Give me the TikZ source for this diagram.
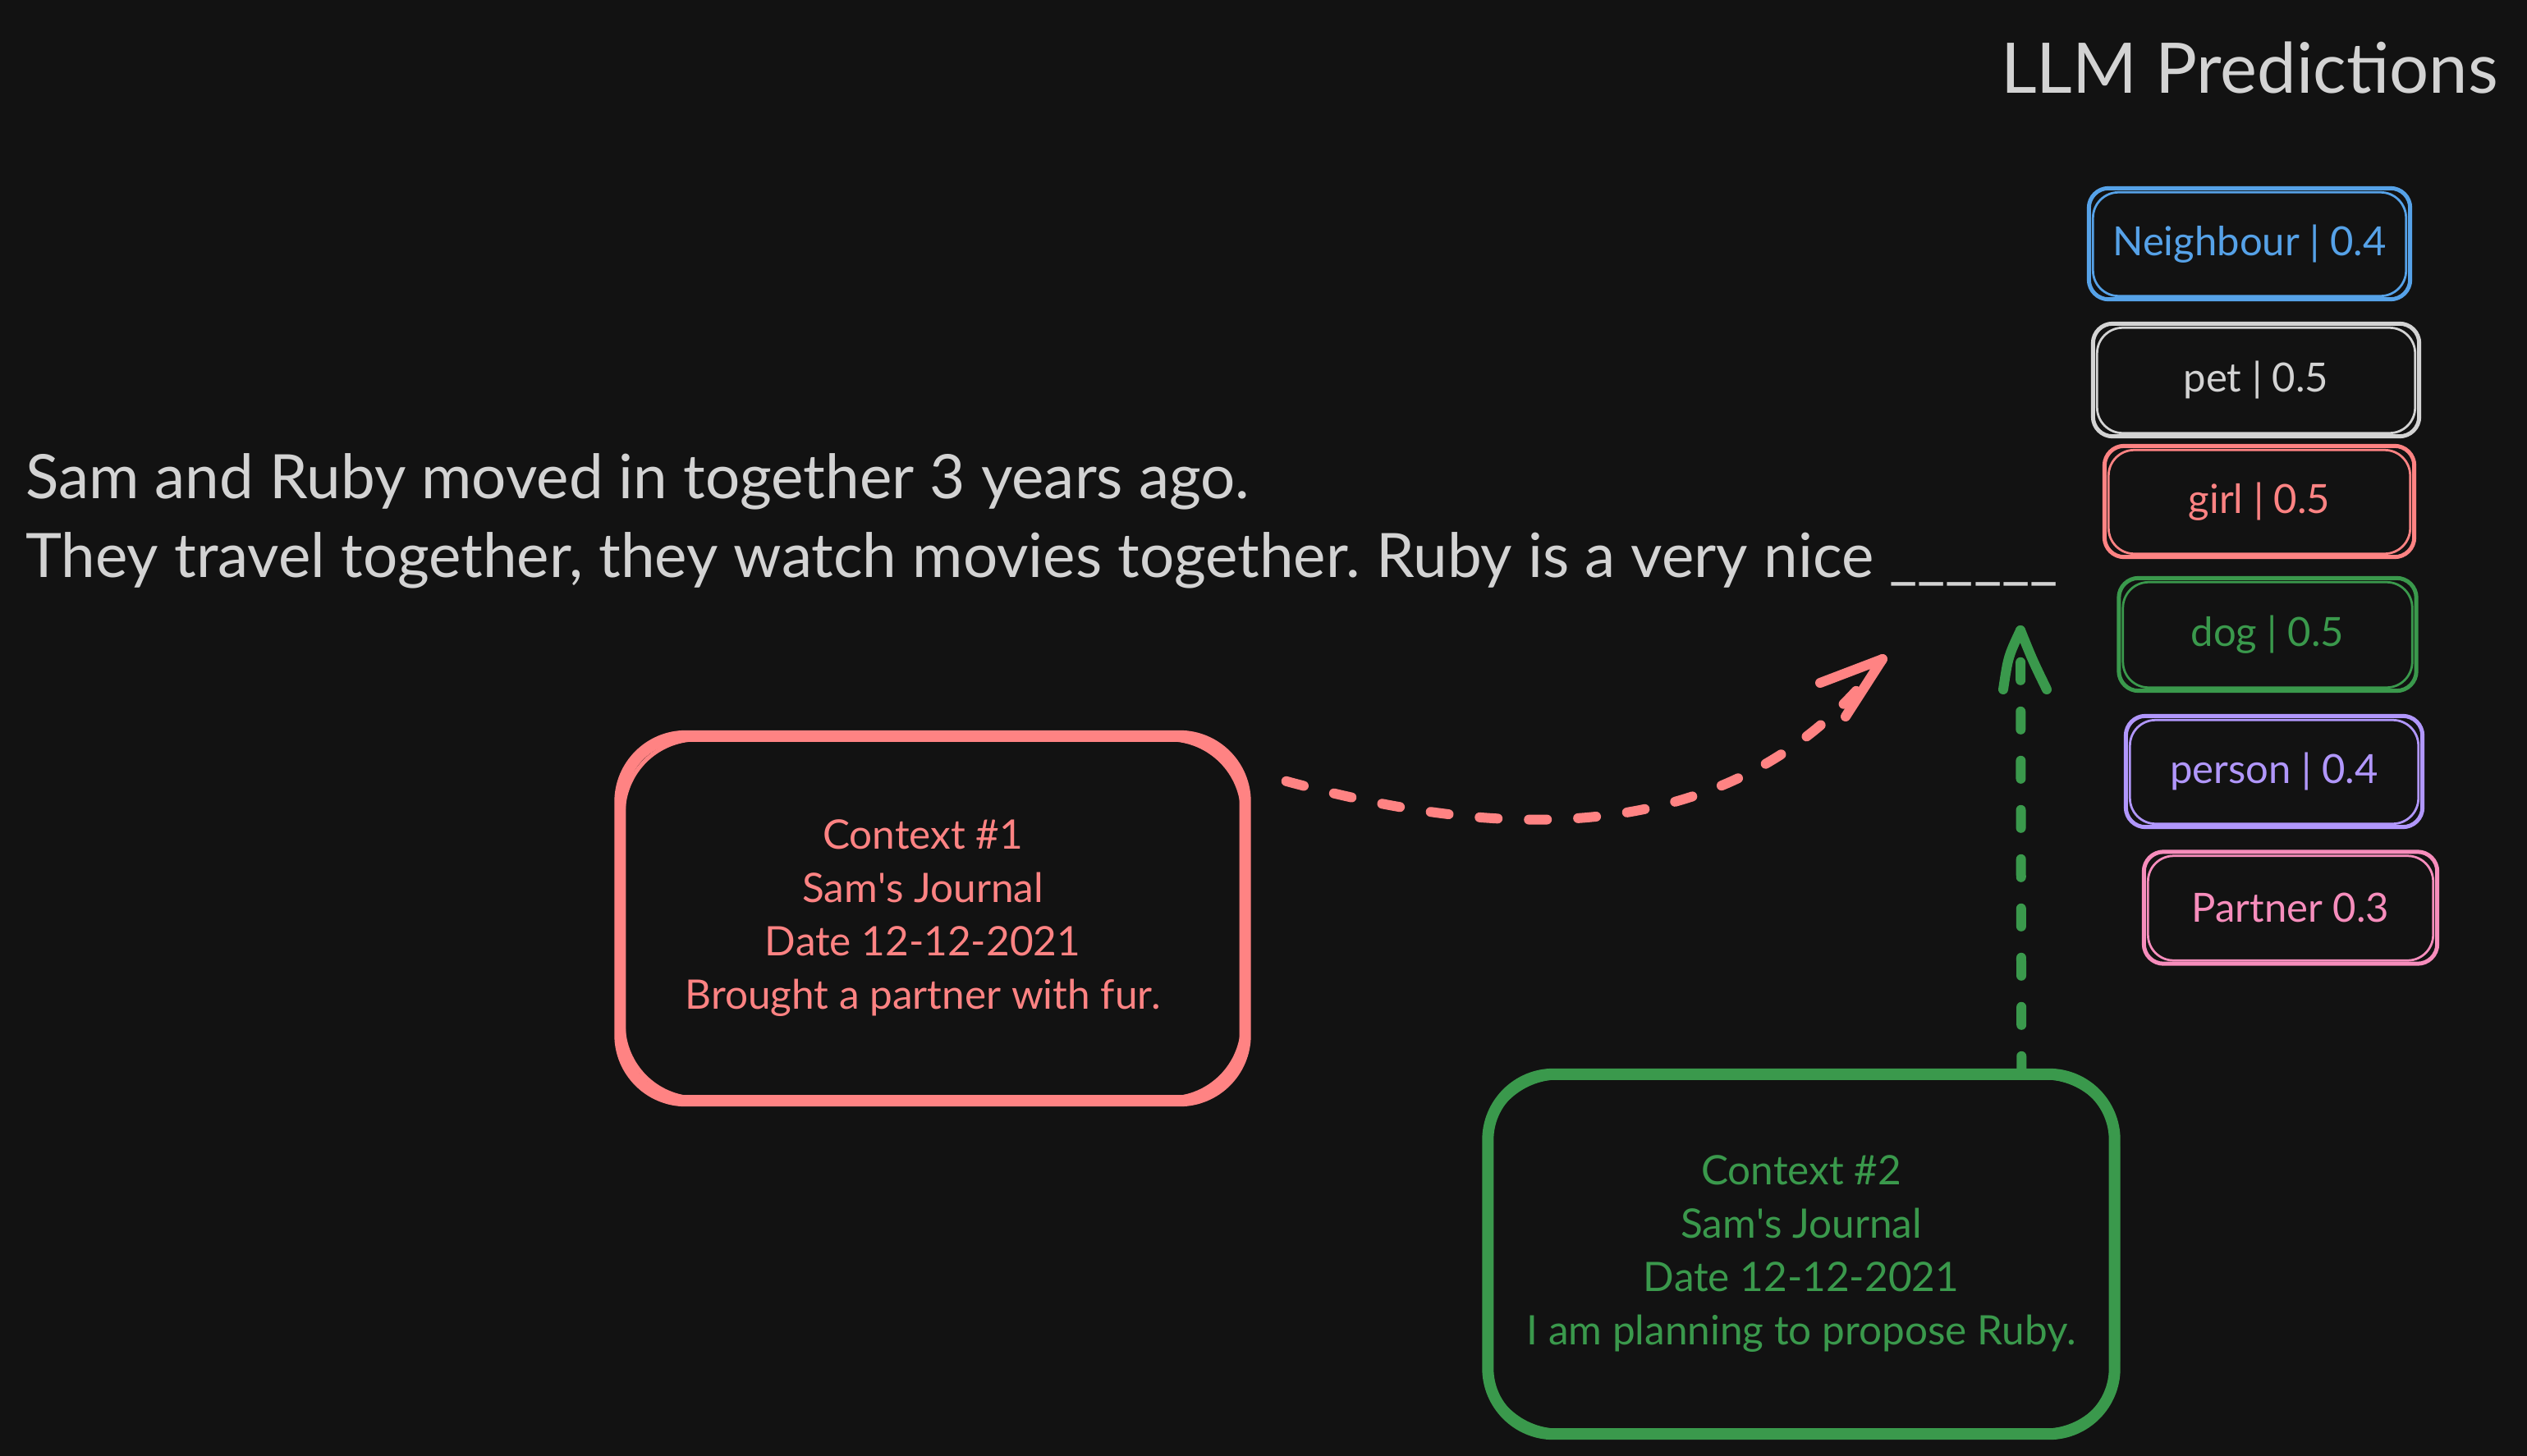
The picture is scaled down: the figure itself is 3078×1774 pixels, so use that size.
\documentclass[tikz,border=0pt]{standalone}
\usepackage{fontspec}
\setmainfont{Lato}
\usetikzlibrary{calc}
\frenchspacing
\definecolor{bg}{HTML}{121212}
\definecolor{fg}{HTML}{D3D3D3}
\definecolor{cred}{HTML}{FF8383}
\definecolor{cgreen}{HTML}{3A994C}
\definecolor{cblue}{HTML}{56A2E8}
\definecolor{cgrey}{HTML}{D3D3D3}
\definecolor{cpurple}{HTML}{B197FC}
\definecolor{cpink}{HTML}{F78DBC}
\newcommand\sketchbox[4]{%
  \draw[#2, line width=#3, rounded corners=#4] ([shift={(-2,2)}]#1.south west) rectangle ([shift={(2,-2)}]#1.north east);
  \draw[#2, line width=0.55*#3, rounded corners=1.3*#4] ([shift={(3,-2)}]#1.south west) rectangle ([shift={(-3,3)}]#1.north east);
}
\tikzset{
  maintext/.style={text=fg, font={\fontsize{74.6}{90}\selectfont}, inner sep=0pt},
  pred/.style={text=#1, font={\fontsize{49}{58}\selectfont}, inner sep=0pt},
  ctx/.style={text=#1, font={\fontsize{49.5}{65}\selectfont}, align=center, inner sep=0pt},
  dashline/.style={#1, line width=12pt, line cap=round, dash pattern=on 22pt off 38pt},
  barb/.style={#1, line width=12pt, line cap=round, line join=round},
}
\begin{document}
\begin{tikzpicture}[x=1pt,y=-1pt]
\fill[bg] (0,0) rectangle (3078,1774);
\useasboundingbox (0,0) rectangle (3078,1774);

% title
\node[maintext, font={\fontsize{85}{100}\selectfont}, anchor=base east] (title) at (3043,114) {LLM Predictions};

% main sentence
\node[maintext, anchor=base west] (l1) at (31,607) {Sam and Ruby moved in together 3 years ago.};
\node[maintext, anchor=base west] (l2) at (31,703) {They travel together, they watch movies together. Ruby is a very nice \_\_\_\_\_\_};

% predictions
\node[pred=cblue, minimum width=387pt, minimum height=131pt] (nb) at (2740,297) {Neighbour | 0.4};
\node[pred=cgrey, minimum width=393pt, minimum height=133pt] (pet) at (2748,463) {pet | 0.5};
\node[pred=cred, minimum width=373pt, minimum height=131pt] (girl) at (2752,611) {girl | 0.5};
\node[pred=cgreen, minimum width=358pt, minimum height=133pt] (dog) at (2762,773) {dog | 0.5};
\node[pred=cpurple, minimum width=357pt, minimum height=131pt] (person) at (2770,940) {person | 0.4};
\node[pred=cpink, minimum width=353pt, minimum height=132pt] (partner) at (2790,1106) {Partner 0.3};
\sketchbox{nb}{cblue}{5pt}{24pt}
\sketchbox{pet}{cgrey}{5pt}{24pt}
\sketchbox{girl}{cred}{5pt}{24pt}
\sketchbox{dog}{cgreen}{5pt}{24pt}
\sketchbox{person}{cpurple}{5pt}{24pt}
\sketchbox{partner}{cpink}{5pt}{24pt}

% context boxes
\node[ctx=cred, minimum width=761pt, minimum height=444pt] (c1) at (1124,1119)
  {Context \#1\\Sam\textquotesingle s Journal\\Date 12-12-2021\\Brought a partner with fur.};
\node[ctx=cgreen, minimum width=763pt, minimum height=438pt] (c2) at (2194,1528)
  {Context \#2\\Sam\textquotesingle s Journal\\Date 12-12-2021\\I am planning to propose Ruby.};
\draw[cred, line width=14pt, rounded corners=80pt] ([xshift=12]c1.south west) rectangle ([xshift=12]c1.north east);
\draw[cred, line width=5pt, rounded corners=90pt] ([shift={(16,-3)}]c1.south west) rectangle ([shift={(9,4)}]c1.north east);
\draw[cgreen, line width=14pt, rounded corners=80pt] (c2.south west) rectangle (c2.north east);
\draw[cgreen, line width=5pt, rounded corners=90pt] ([shift={(-3,-4)}]c2.south west) rectangle ([shift={(4,4)}]c2.north east);

% red curved dashed arrow
\coordinate (r0) at ($(c1.north east)+(62,55)$);
\coordinate (r1) at (2293,803);
\draw[dashline=cred] (r0) .. controls (1780,1010) and (2100,1060) .. (r1);
\draw[barb=cred] (2217,832) -- (r1) -- (2248,873);

% green vertical dashed arrow
\coordinate (g0) at ($(c2.north west)+(650,0)$);
\coordinate (g1) at (2461,768);
\draw[dashline=cgreen] (g0) -- (g1);
\draw[barb=cgreen] (2440,840) .. controls (2446,800) .. (g1) .. controls (2476,805) .. (2493,840);
\end{tikzpicture}
\end{document}
